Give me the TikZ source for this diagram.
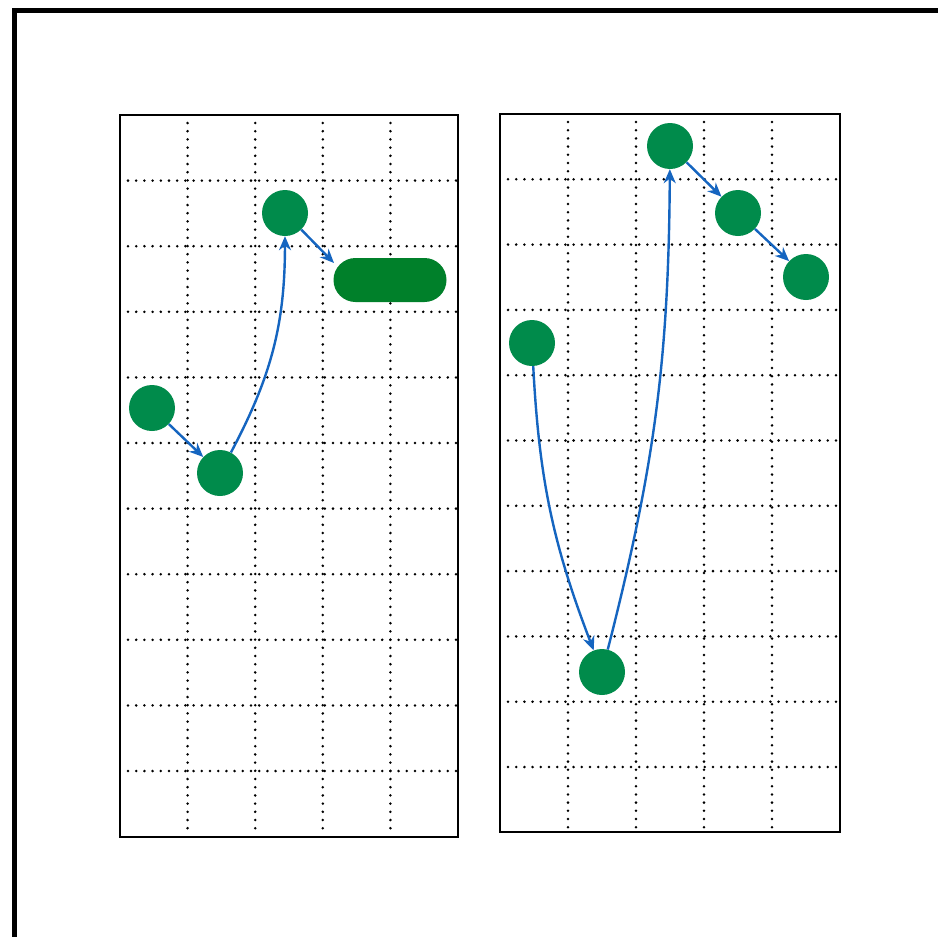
\documentclass[tikz,border=0pt]{standalone}
\usetikzlibrary{arrows.meta,shapes.misc}
\definecolor{dotgreen}{RGB}{0,139,75}
\definecolor{pillgreen}{RGB}{0,128,42}
\definecolor{arrowblue}{RGB}{21,101,192}
\tikzset{
  frameline/.style={line width=5pt},
  panel/.style={line width=2.4pt},
  gridline/.style={line width=2.8pt, line cap=round, dash pattern=on 0pt off 8.2pt},
  dotnode/.style={circle, fill=dotgreen, minimum size=46pt, inner sep=0pt},
  pillnode/.style={rounded rectangle, fill=pillgreen, minimum width=113pt, minimum height=44pt, inner sep=0pt},
  flow/.style={draw=arrowblue, line width=2.4pt, -{Stealth[length=14pt,width=12pt]}},
}
\begin{document}
\begin{tikzpicture}[x=1pt,y=-1pt]
\useasboundingbox (0,0) rectangle (938,937);
\fill[white] (0,0) rectangle (938,937);
% outer frame (cropped at right and bottom)
\draw[frameline] (14,960) -- (14,10) -- (960,10);
% left panel grid
\foreach \i in {1,...,4} \draw[gridline] ({120+67.6*\i},123) -- ({120+67.6*\i},835);
\foreach \j in {1,...,10} \draw[gridline] (128,{115+65.6*\j}) -- (456,{115+65.6*\j});
\draw[panel] (120,115) rectangle (458,837);
% right panel grid
\foreach \i in {1,...,4} \draw[gridline] ({500+68*\i},122) -- ({500+68*\i},830);
\foreach \j in {1,...,10} \draw[gridline] (508,{114+65.3*\j}) -- (838,{114+65.3*\j});
\draw[panel] (500,114) rectangle (840,832);
% left nodes
\node[dotnode] (a1) at (152,408) {};
\node[dotnode] (a2) at (220,473) {};
\node[dotnode] (a3) at (285,213) {};
\node[pillnode] (a4) at (390,280) {};
\coordinate (a4in) at (334,263);
% right nodes
\node[dotnode] (b1) at (532,343) {};
\node[dotnode] (b2) at (602,672) {};
\node[dotnode] (b3) at (670,146) {};
\node[dotnode] (b4) at (738,213) {};
\node[dotnode] (b5) at (806,277) {};
% connectors
\draw[flow] (a1) -- (a2);
\draw[flow] (a2) to[bend right=14] (a3);
\draw[flow] (a3) -- (a4in);
\draw[flow] (b1) to[bend right=9] (b2);
\draw[flow] (b2) to[bend right=7] (b3);
\draw[flow] (b3) -- (b4);
\draw[flow] (b4) -- (b5);
\end{tikzpicture}
\end{document}
